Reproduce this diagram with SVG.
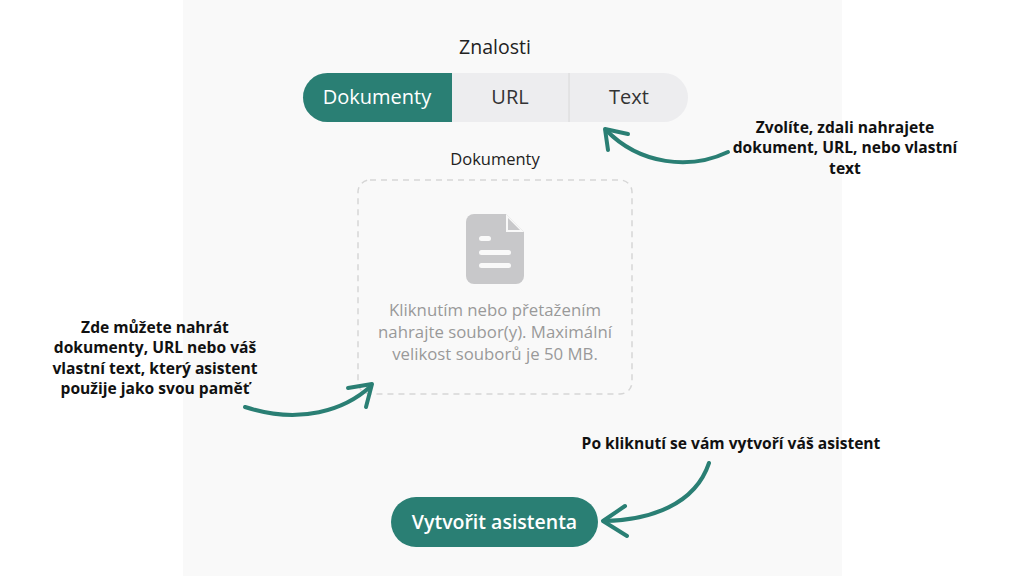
<svg xmlns="http://www.w3.org/2000/svg" width="1024" height="576" viewBox="0 0 1024 576">
<style>
.ui{font-family:"Open Sans","Noto Sans",sans-serif}
.note{font-family:"Open Sans","Noto Sans",sans-serif;font-weight:bold;font-size:15.6px;fill:#111}
.arr{fill:none;stroke:#2a7f74;stroke-width:4;stroke-linecap:round;stroke-linejoin:round}
</style>
<rect width="1024" height="576" fill="#fff"/>
<rect x="183" y="0" width="659" height="576" fill="#f9f9f9"/>
<g id="title"><text class="ui" x="495" y="54" font-size="19.5" fill="#222" text-anchor="middle">Znalosti</text></g>
<g id="toggle">
<rect x="303" y="73" width="385" height="49" rx="24.5" fill="#ededef"/>
<path d="M452 73 H327.5 A24.5 24.5 0 0 0 327.5 122 H452 Z" fill="#2a7f74"/>
<line x1="569" y1="73" x2="569" y2="122" stroke="#d8d8d8" stroke-width="1"/>
<text class="ui" x="377" y="104" font-size="20" fill="#fff" text-anchor="middle">Dokumenty</text>
<text class="ui" x="510" y="104" font-size="20" fill="#333" text-anchor="middle">URL</text>
<text class="ui" x="629" y="104" font-size="20" fill="#333" text-anchor="middle">Text</text>
</g>
<g id="upload">
<text class="ui" x="495" y="165" font-size="16.5" fill="#222" text-anchor="middle">Dokumenty</text>
<rect x="358" y="180" width="274" height="214" rx="12" fill="none" stroke="#d6d6d6" stroke-width="1.5" stroke-dasharray="6 5"/>
<path d="M474 214 H506 L524 232 V276 A8 8 0 0 1 516 284 H474 A8 8 0 0 1 466 276 V222 A8 8 0 0 1 474 214 Z" fill="#c8c8ca"/>
<path d="M506 214 V232 H524 Z" fill="#f9f9f9"/>
<path d="M508 218 V230 H520 Z" fill="#c8c8ca"/>
<rect x="479" y="236" width="12" height="5" rx="2.5" fill="#f9f9f9"/>
<rect x="479" y="250" width="32" height="5" rx="2.5" fill="#f9f9f9"/>
<rect x="479" y="263" width="32" height="5" rx="2.5" fill="#f9f9f9"/>
<text class="ui" font-size="16.8" fill="#999" text-anchor="middle"><tspan x="495" y="316">Kliknutím nebo přetažením</tspan><tspan x="495" y="338">nahrajte soubor(y). Maximální</tspan><tspan x="495" y="360">velikost souborů je 50 MB.</tspan></text>
</g>
<g id="button">
<rect x="391" y="497" width="207" height="50" rx="25" fill="#2a7f74"/>
<text class="ui" x="494.5" y="529" font-size="19.5" font-weight="600" fill="#fff" text-anchor="middle">Vytvořit asistenta</text>
</g>
<g id="notes">
<text class="note" text-anchor="middle"><tspan x="845" y="133">Zvolíte, zdali nahrajete</tspan><tspan x="845" y="153">dokument, URL, nebo vlastní</tspan><tspan x="845" y="174">text</tspan></text>
<text class="note" text-anchor="middle"><tspan x="155" y="333">Zde můžete nahrát</tspan><tspan x="155" y="353">dokumenty, URL nebo váš</tspan><tspan x="155" y="374">vlastní text, který asistent</tspan><tspan x="155" y="394">použije jako svou paměť</tspan></text>
<text class="note" x="731" y="449" text-anchor="middle">Po kliknutí se vám vytvoří váš asistent</text>
</g>
<g id="connectors">
<path class="arr" d="M728 152 C690 170 640 165 606 130"/>
<path class="arr" d="M608 150 L605 129 L628 134"/>
<path class="arr" d="M245 407 C300 425 345 410 371 386"/>
<path class="arr" d="M348 388 L372 384 L366 407"/>
<path class="arr" d="M709 463 C695 505 650 520 604 521"/>
<path class="arr" d="M625 506 L603 521 L627 536"/>
</g>
</svg>
